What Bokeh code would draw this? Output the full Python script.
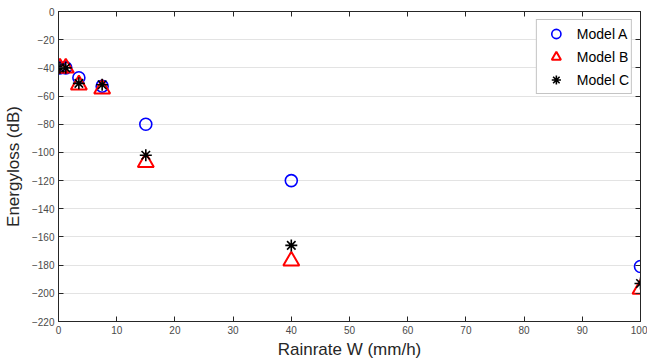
from bokeh.plotting import figure
from bokeh.models import (LinearAxis, SingleIntervalTicker, Range1d, Legend, LegendItem,
                          CustomLabelingPolicy)
from bokeh.embed import file_html
from bokeh.resources import INLINE

rain = [0.25, 1.25, 3.5, 7.5, 15, 40, 100]
model_a = [-40, -40, -47, -53, -80, -120, -181]
model_b = [-40, -40, -52, -55, -107, -177, -197]
model_c = [-40, -40, -51, -52, -102, -166, -193]
labels = ["Model A", "Model B", "Model C"]

FONT = "Liberation Sans"
AX = "#262626"

p = figure(width=647, height=361, output_backend="svg", toolbar_location=None,
           x_range=Range1d(0, 100), y_range=Range1d(-220, 0),
           min_border_left=57, min_border_right=7, min_border_top=11, min_border_bottom=39)
p.background_fill_color = "white"
p.border_fill_color = "white"
p.outline_line_color = AX

xt = SingleIntervalTicker(interval=10, num_minor_ticks=0)
yt = SingleIntervalTicker(interval=20, num_minor_ticks=0)

p.xaxis.ticker = xt
p.yaxis.ticker = yt
p.xgrid.visible = False
p.ygrid.ticker = yt
p.ygrid.grid_line_color = "#e3e3e3"
p.ygrid.grid_line_width = 1

for ax in [p.xaxis[0], p.yaxis[0]]:
    ax.major_tick_in = 5
    ax.major_tick_out = 0
    ax.minor_tick_line_color = None
    ax.axis_line_color = AX
    ax.major_tick_line_color = AX
    ax.major_label_text_font = FONT
    ax.major_label_text_font_size = "10px"
    ax.major_label_text_color = "#4a4a4a"
    ax.axis_label_text_font = FONT
    ax.axis_label_text_font_size = "17px"
    ax.axis_label_text_font_style = "normal"
    ax.axis_label_text_color = AX
p.xaxis.axis_label = "Rainrate W (mm/h)"
p.yaxis.axis_label = "Energyloss (dB)"
p.xaxis.major_label_standoff = 4
p.xaxis.axis_label_standoff = 3
p.yaxis.major_label_standoff = 4
p.yaxis.axis_label_standoff = 6

no_labels = CustomLabelingPolicy(code="""
const all = [...indices]
for (const i of all) indices.set(i, false)
return indices
""")

right = LinearAxis(ticker=yt, major_tick_in=5, major_tick_out=0, major_label_policy=no_labels,
                   major_label_standoff=0, minor_tick_line_color=None, axis_line_color=AX,
                   major_tick_line_color=AX, major_label_text_font_size="0px")
top = LinearAxis(ticker=xt, major_tick_in=5, major_tick_out=0, major_label_policy=no_labels,
                 major_label_standoff=0, minor_tick_line_color=None, axis_line_color=AX,
                 major_tick_line_color=AX, major_label_text_font_size="0px")
p.add_layout(right, "right")
p.add_layout(top, "above")

ra = p.scatter(rain, model_a, marker="circle", size=12, fill_color=None,
               line_color="#0000ff", line_width=1.6)
rb = p.scatter(rain, model_b, marker="triangle", size=16, fill_color=None,
               line_color="#ff0000", line_width=2)
rc = p.scatter(rain, model_c, marker="asterisk", size=12, fill_color=None,
               line_color="#000000", line_width=1.6)

legend = Legend(items=[LegendItem(label=labels[0], renderers=[ra]),
                       LegendItem(label=labels[1], renderers=[rb]),
                       LegendItem(label=labels[2], renderers=[rc])],
                location="top_right", margin=8, padding=2, spacing=0,
                glyph_height=23, glyph_width=34, label_height=23, label_standoff=4,
                label_text_font=FONT, label_text_font_size="14px",
                label_text_color="#000000", border_line_color="#8a8a8a",
                border_line_width=1, background_fill_color="white", background_fill_alpha=1)
p.add_layout(legend)

open("out.html", "w").write(file_html(p, INLINE))
